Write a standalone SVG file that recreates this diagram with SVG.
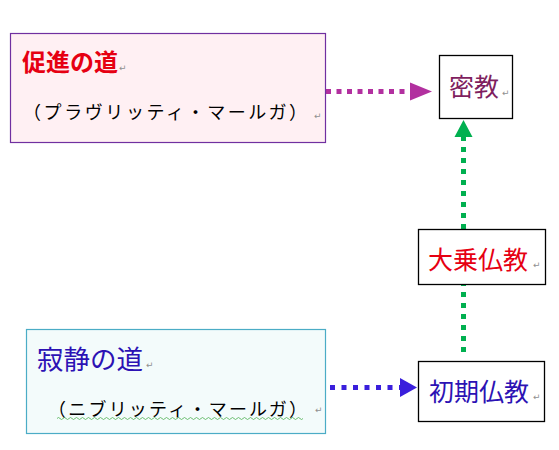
<svg xmlns="http://www.w3.org/2000/svg" width="559" height="450" viewBox="0 0 559 450">
<style>
  text { font-family: "Noto Sans CJK JP", "Noto Sans", sans-serif; }
  .box { stroke: #000; stroke-width: 1.3; fill: #fff; }
  .ret { font-family: "DejaVu Sans", sans-serif; font-size: 9px; fill: #909090; }
  .sub { font-size: 18px; fill: #000; }
  .big { font-size: 25px; }
</style>
<rect width="559" height="450" fill="#fff"/>
<g id="connectors">
  <line x1="326" y1="91.5" x2="411" y2="91.5" stroke="#b2309f" stroke-width="5" stroke-dasharray="5 5.5"/>
  <polygon points="410,82.5 432,91.5 410,100.5" fill="#b2309f"/>
  <line x1="463.5" y1="229" x2="463.5" y2="137" stroke="#00b050" stroke-width="5" stroke-dasharray="5 6"/>
  <line x1="463.5" y1="352" x2="463.5" y2="285" stroke="#00b050" stroke-width="5" stroke-dasharray="5 6"/>
  <polygon points="454.5,137 463.5,120 472.5,137" fill="#00b050"/>
  <line x1="330" y1="387.5" x2="401" y2="387.5" stroke="#3a1fdc" stroke-width="5" stroke-dasharray="5 6.5"/>
  <polygon points="400,378 417,387.5 400,397" fill="#3a1fdc"/>
</g>
<g id="pravritti">
  <rect x="10.5" y="33.5" width="315" height="109" fill="#fff0f3" stroke="#7030a0" stroke-width="1.2"/>
  <text x="22" y="71" font-size="24" font-weight="bold" fill="#e60012">促進の道</text>
  <text x="119" y="71" class="ret">↵</text>
  <text x="23" y="119" class="sub" textLength="284" lengthAdjust="spacing">（プラヴリッティ・マールガ）</text>
  <text x="314" y="119" class="ret">↵</text>
</g>
<g id="mikkyo">
  <rect x="439.5" y="55.5" width="73" height="63" class="box"/>
  <text x="449" y="96" class="big" fill="#7f1f5f">密教</text>
  <text x="502" y="96" class="ret">↵</text>
</g>
<g id="daijo">
  <rect x="418.5" y="229.5" width="127" height="55" class="box"/>
  <text x="428" y="269" class="big" fill="#e60012">大乗仏教</text>
  <text x="533" y="268" class="ret">↵</text>
</g>
<g id="shoki">
  <rect x="418.5" y="361.5" width="126" height="60" class="box"/>
  <text x="429" y="401" class="big" fill="#2c12b4">初期仏教</text>
  <text x="533" y="400" class="ret">↵</text>
</g>
<g id="nivritti">
  <rect x="26.5" y="329.5" width="299" height="104" fill="#f3fbfb" stroke="#4bacc6" stroke-width="1.2"/>
  <text x="37" y="369" font-size="26.5" fill="#2c12b4">寂静の道</text>
  <text x="146" y="368" class="ret">↵</text>
  <text x="48" y="416" class="sub" textLength="259" lengthAdjust="spacing">（ニブリッティ・マールガ）</text>
  <path d="M57 418.5 q1.5 -2 3 0 t3 0 t3 0 t3 0 t3 0 t3 0 t3 0 t3 0 t3 0 t3 0 t3 0 t3 0 t3 0 t3 0 t3 0 t3 0 t3 0 t3 0 t3 0 t3 0 t3 0 t3 0 t3 0 t3 0 t3 0 t3 0 t3 0 t3 0 t3 0 t3 0 t3 0 t3 0 t3 0 t3 0 t3 0 t3 0 t3 0 t3 0 t3 0 t3 0 t3 0 t3 0 t3 0 t3 0 t3 0 t3 0 t3 0 t3 0 t3 0 t3 0 t3 0 t3 0 t3 0 t3 0 t3 0 t3 0 t3 0 t3 0 t3 0 t3 0 t3 0 t3 0 t3 0 t3 0 t3 0 t3 0 t3 0 t3 0 t3 0 t3 0 t3 0 t3 0 t3 0 t3 0 t3 0 t3 0 t3 0 t3 0 t3 0 t3 0 t3 0 t3 0" fill="none" stroke="#4caf50" stroke-width="0.8"/>
  <text x="315" y="413" class="ret">↵</text>
</g>
</svg>
